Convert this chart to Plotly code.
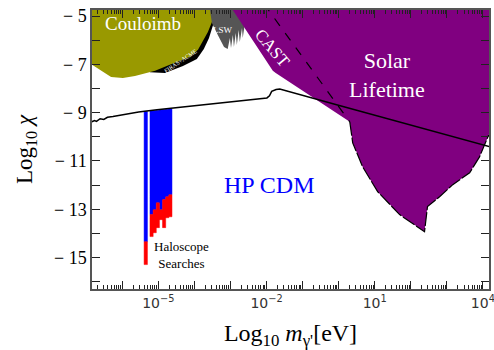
import numpy as np
import plotly.graph_objects as go

# ---------------- data (log10 m [eV], log10 chi) ----------------
coulomb_lx = [-6.970, -6.838, -6.310, -5.984, -5.649, -5.090, -4.683, -4.124, -3.900, -3.768, -3.626, -3.514, -3.433, -3.392]
coulomb_ly = [-6.97, -7.02, -7.52, -7.56, -7.48, -7.27, -7.02, -6.69, -6.40, -6.07, -5.66, -5.25, -4.75, -4.50]

firas_lx = [-5.232, -4.815, -4.317, -3.931, -3.738, -3.595, -3.483, -3.402, -3.361]
firas_ly = [-7.33, -7.36, -7.07, -6.78, -6.36, -5.91, -5.37, -4.75, -4.50]

lsw_lx = [-3.595, -3.514, -3.351, -3.178, -3.077, -3.016, -2.985, -2.934, -2.904, -2.853, -2.823, -2.772, -2.741, -2.680, -2.660, -2.599, -2.518]
lsw_ly = [-4.50, -5.29, -5.79, -6.28, -6.36, -5.91, -6.32, -5.79, -6.28, -5.70, -6.20, -5.58, -6.07, -5.50, -5.91, -5.37, -4.50]

solar_lx = [-3.046, -2.934, -1.826, -1.745, 0.309, 0.390, 0.664, 1.081, 1.691, 2.382, 2.464, 2.799, 3.165, 3.633, 3.907, 4.050, 4.162, 4.314]
solar_ly = [-4.50, -4.75, -7.27, -7.36, -9.38, -10.25, -11.24, -12.27, -13.22, -13.93, -12.89, -12.48, -11.98, -11.49, -10.83, -10.33, -9.92, -9.50]

cast_lx = [-2.070, 0.309]
cast_ly = [-4.50, -9.38]

bound_lx = [-6.919, -6.838, -6.767, -6.716, -6.615, -6.513, -6.411, -6.259, -6.055, -5.547, -5.039, -4.530, -3.849, -3.006,
            -1.989, -1.918, -1.857, -1.735, -1.633, 0.044, 2.077, 3.989, 4.212]
bound_ly = [-9.42, -9.38, -9.33, -9.36, -9.25, -9.28, -9.19, -9.16, -9.10, -8.97, -8.88, -8.80, -8.68, -8.55,
            -8.39, -8.30, -8.12, -8.04, -8.02, -8.71, -9.54, -10.33, -10.42]

halo_lx = [-5.349, -5.188, -5.101, -5.014, -4.927, -4.840, -4.753, -4.666]
halo_halfw = [0.046, 0.044, 0.044, 0.044, 0.044, 0.044, 0.044, 0.044]
halo_top = [-8.95, -8.92, -8.91, -8.90, -8.88, -8.87, -8.86, -8.85]
halo_blue_bottom = [-14.34, -13.22, -13.02, -12.73, -13.02, -12.60, -12.48, -12.40]
halo_red_bottom = [-15.29, -14.13, -13.97, -13.76, -13.43, -13.76, -13.35, -13.31]

x_tick_exp = [-5, -2, 1, 4]
y_ticks = [-5, -7, -9, -11, -13, -15]

TOP = -4.5
XR = [-6.84, 4.17]
YR = [-16.3, -4.75]

# ---------------- helpers ----------------
def poly_top(lx, ly):
    xs = list(lx) + [lx[-1], lx[0]]
    ys = list(ly) + [TOP, TOP]
    return [10 ** v for v in xs], ys

def rects(cx, hw, y0, y1):
    xs, ys = [], []
    for c, w, a, b in zip(cx, hw, y0, y1):
        xs += [10 ** (c - w), 10 ** (c + w), 10 ** (c + w), 10 ** (c - w), 10 ** (c - w), None]
        ys += [a, a, b, b, a, None]
    return xs, ys

fig = go.Figure()

def add_fill(lx, ly, color):
    xs, ys = poly_top(lx, ly)
    fig.add_trace(go.Scatter(x=xs, y=ys, mode="lines", fill="toself", fillcolor=color,
                             line=dict(width=0, color=color), hoverinfo="skip", showlegend=False))

add_fill(firas_lx, firas_ly, "black")
add_fill(coulomb_lx, coulomb_ly, "#999900")
add_fill(lsw_lx, lsw_ly, "#555555")
add_fill(solar_lx, solar_ly, "#800080")

# lower outline of solar region
fig.add_trace(go.Scatter(x=[10 ** v for v in solar_lx[4:17]], y=solar_ly[4:17], mode="lines",
                         line=dict(color="black", width=1.2, dash="14px,2px"), showlegend=False, hoverinfo="skip"))
# CAST dashed line
fig.add_trace(go.Scatter(x=[10 ** v for v in cast_lx], y=cast_ly, mode="lines",
                         line=dict(color="black", width=1.2, dash="dash"), showlegend=False, hoverinfo="skip"))

# haloscope bars
bx, by = rects(halo_lx, halo_halfw, halo_top, halo_blue_bottom)
fig.add_trace(go.Scatter(x=bx, y=by, mode="lines", fill="toself", fillcolor="#0000ff",
                         line=dict(width=0.5, color="#0000ff"), showlegend=False, hoverinfo="skip"))
rx, ry = rects(halo_lx, halo_halfw, halo_blue_bottom, halo_red_bottom)
fig.add_trace(go.Scatter(x=rx, y=ry, mode="lines", fill="toself", fillcolor="#ff0000",
                         line=dict(width=0.5, color="#ff0000"), showlegend=False, hoverinfo="skip"))

# black bound line
fig.add_trace(go.Scatter(x=[10 ** v for v in bound_lx], y=bound_ly, mode="lines",
                         line=dict(color="black", width=1.5), showlegend=False, hoverinfo="skip"))

SERIF = "Liberation Serif"

def ann(x, y, text, size, color, angle=0, font=SERIF):
    fig.add_annotation(x=x, y=y, xref="x", yref="y", text=text, showarrow=False,
                       font=dict(family=font, size=size, color=color), textangle=angle)

ann(-5.415, -5.30, "Couloimb", 19, "white")
ann(-3.194, -5.57, "LSW", 9, "white")
ann(-1.836, -6.35, "CAST", 17, "white", angle=50)
ann(1.342, -7.46, "Solar<br>Lifetime", 22, "white")
ann(-1.938, -11.98, "HP CDM", 24, "#0000ff")
ann(-4.348, -14.88, "Haloscope<br>Searches", 13, "black")
ann(-4.378, -6.88, "FIRAS+ACME", 6, "white", angle=-34)

minor_x = [k * 10 ** e for e in range(-7, 5) for k in range(2, 10)]
major_x = [10 ** e for e in range(-7, 5)]
major_txt = [("10<sup>" + str(e).replace("-", "−") + "</sup>") if e in x_tick_exp else "" for e in range(-7, 5)]

fig.update_xaxes(type="log", range=XR, tickmode="array", tickvals=major_x, ticktext=major_txt,
                 ticks="inside", ticklen=8, tickcolor="#222", tickwidth=1,
                 tickfont=dict(family="DejaVu Sans", size=14, color="#333"),
                 ticklabeloverflow="allow", automargin=False,
                 showline=True, linecolor="#555", linewidth=1.5, mirror="allticks",
                 showgrid=False, zeroline=False,
                 minor=dict(tickmode="array", tickvals=minor_x, ticks="inside", ticklen=4, tickcolor="#222"),
                 title=dict(text="Log<sub>10</sub> <i>m</i><sub>γ'</sub>[eV]",
                            font=dict(family=SERIF, size=24, color="black")))
fig.update_yaxes(range=YR, tickmode="array", tickvals=y_ticks,
                 ticktext=[str(v).replace("-", "− ") for v in y_ticks],
                 ticks="inside", ticklen=8, tickcolor="#222", automargin=False,
                 tickfont=dict(family=SERIF, size=18, color="black"),
                 showline=True, linecolor="#555", linewidth=1.5, mirror="allticks",
                 showgrid=False, zeroline=False,
                 minor=dict(dtick=1, tick0=0, ticks="inside", ticklen=8, tickcolor="#222"),
                 title=dict(text="Log<sub>10</sub> <i>χ</i>", font=dict(family=SERIF, size=23, color="black")))

fig.update_layout(width=494, height=350, margin=dict(l=92, r=5, t=10, b=61),
                  plot_bgcolor="white", paper_bgcolor="white", showlegend=False)

fig.write_html("out.html", config={"displayModeBar": False},
               post_script="document.body.style.margin='0';document.body.style.overflow='hidden';")
